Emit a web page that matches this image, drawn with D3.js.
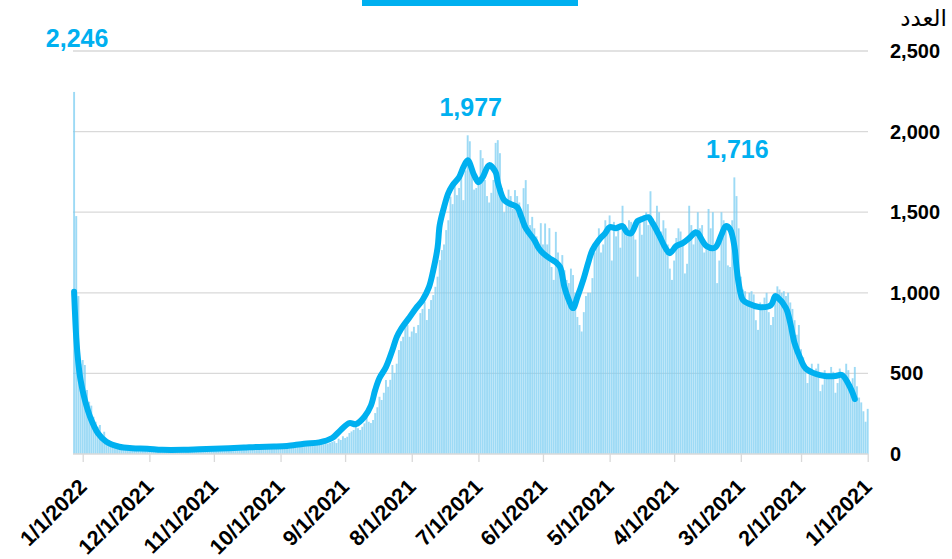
<!DOCTYPE html>
<html>
<head>
<meta charset="utf-8">
<script src="https://cdn.jsdelivr.net/npm/d3@7"></script>
<style>
  body { margin: 0; background: #fff; }
  svg { display: block; }
</style>
</head>
<body>
<svg id="chart"></svg>
<script>
// daily counts, one array per month (first day = 1 Jan 2021)
var jan2021 = [280,200,265,320,350,420,540,470,400,520,560,500,480,530,440,380,510,540,500,470,520,430,390,560,530,490,560,500,440,560,600];
var feb2021 = [650,800,740,830,900,940,1000,980,1010,1000,1020,1040,960,850,800,880,1000,970,920,940,770,830,990,1010,1000,940,1010,1020];
var mar2021 = [1100,1400,1600,1716,1450,1160,1170,1390,1450,1500,1200,1060,1280,1500,1400,1520,1300,1250,1420,1400,1500,1380,1300,1420,1540,1180,1120,1300,1380,1400,1340];
var apr2021 = [1200,1080,1150,1300,1400,1450,1380,1500,1540,1420,1460,1630,1420,1500,1480,1360,1460,1100,1330,1400,1440,1450,1380,1400,1540,1280,1420,1350,1440,1200];
var may2021 = [1480,1410,1450,1300,1250,1400,1300,1250,1091,1000,1000,980,880,760,800,850,1000,1110,1150,1060,1080,1140,1234,1170,1250,1378,1080,1160,1401,1300,1430];
var jun2021 = [1300,1432,1280,1350,1400,1471,1420,1550,1699,1649,1480,1560,1600,1637,1520,1600,1640,1560,1500,1650,1866,1947,1930,1700,1620,1560,1600,1700,1835,1885];
var jul2021 = [1700,1650,1640,1800,1940,1977,1760,1575,1761,1650,1606,1700,1550,1596,1450,1389,1300,1265,1203,1100,1037,986,955,900,831,944,900,874,800,750,789];
var aug2021 = [760,727,800,831,727,700,645,560,502,552,460,417,459,380,335,355,290,254,211,192,200,231,190,169,149,160,180,149,140,130,107];
var sep2021 = [99,110,87,95,68,80,75,70,65,72,60,68,70,62,75,70,58,66,60,55,52,48,45,42,40,38,36,40,38,45];
var oct2021 = [45,50,55,52,48,50,42,40,38,36,40,42,46,48,44,40,38,36,40,38,35,33,30,32,30,28,30,27,29,26,28];
var nov2021 = [30,27,29,26,30,28,25,24,26,22,25,24,27,23,25,22,26,24,27,25,23,26,28,25,29,30,32,34,33,35];
var dec2021 = [32,38,35,30,28,36,40,34,38,42,35,30,40,45,48,52,60,55,65,70,87,138,120,180,169,200,231,300,324,397,552];
var jan2022 = [583,560,980,1476,2246];

// moving average line
var avgDates = ["2021-01-07","2021-01-09","2021-01-13","2021-01-16","2021-01-21","2021-01-25","2021-01-30","2021-02-01","2021-02-04","2021-02-06",
  "2021-02-08","2021-02-12","2021-02-13","2021-02-15","2021-02-20","2021-02-25","2021-02-28","2021-03-02","2021-03-03","2021-03-04",
  "2021-03-06","2021-03-08","2021-03-10","2021-03-13","2021-03-17","2021-03-21","2021-03-22","2021-03-25","2021-03-28","2021-03-31",
  "2021-04-03","2021-04-05","2021-04-08","2021-04-11","2021-04-13","2021-04-16","2021-04-18","2021-04-21","2021-04-23","2021-04-25",
  "2021-04-28","2021-05-01","2021-05-03","2021-05-06","2021-05-09","2021-05-11","2021-05-13","2021-05-16","2021-05-18","2021-05-20",
  "2021-05-22","2021-05-24","2021-05-26","2021-05-29","2021-06-01","2021-06-03","2021-06-05","2021-06-09","2021-06-11","2021-06-13",
  "2021-06-16","2021-06-19","2021-06-22","2021-06-23","2021-06-26","2021-06-29","2021-07-01","2021-07-03","2021-07-06","2021-07-08",
  "2021-07-10","2021-07-13","2021-07-15","2021-07-17","2021-07-19","2021-07-20","2021-07-22","2021-07-24","2021-07-27","2021-07-30",
  "2021-08-02","2021-08-06","2021-08-08","2021-08-10","2021-08-13","2021-08-16","2021-08-18","2021-08-20","2021-08-23","2021-08-27",
  "2021-08-30","2021-09-03","2021-09-07","2021-09-13","2021-09-20","2021-09-28","2021-10-04","2021-10-11","2021-10-18","2021-10-25",
  "2021-11-01","2021-11-08","2021-11-15","2021-11-25","2021-12-02","2021-12-09","2021-12-15","2021-12-21","2021-12-25","2021-12-28",
  "2021-12-31","2022-01-02","2022-01-03","2022-01-04","2022-01-05"];
var avgValues = [341,409,490,484,484,496,533,583,688,812,
  905,973,980,924,911,930,955,1060,1160,1290,
  1395,1414,1360,1280,1290,1370,1376,1339,1308,1290,
  1246,1277,1358,1432,1469,1457,1445,1370,1376,1414,
  1401,1407,1370,1327,1265,1184,1091,973,905,955,
  1035,1159,1190,1215,1246,1277,1327,1401,1469,1531,
  1550,1575,1686,1748,1792,1717,1686,1730,1823,1779,
  1717,1668,1618,1531,1420,1280,1140,1035,955,905,
  849,775,725,645,539,471,397,300,231,185,
  192,149,99,72,64,50,46,44,40,36,
  32,29,26,26,33,36,45,76,130,211,
  335,459,560,720,1006];

// labelled peaks
var peakDates = ["2022-01-05","2021-07-06","2021-03-04"];
var peakValues = [2246,1977,1716];

var yTicks = [0,500,1000,1500,2000,2500];

var width = 952, height = 559;
var plotLeft = 73, plotRight = 868, plotTop = 51, plotBottom = 454;
var lightBlue = "#00b0f0";

var parse = d3.timeParse("%Y-%m-%d");
var start = new Date(2021, 0, 1);
var daily = [].concat(jan2021, feb2021, mar2021, apr2021, may2021, jun2021,
  jul2021, aug2021, sep2021, oct2021, nov2021, dec2021, jan2022)
  .map(function (v, i) { return { date: d3.timeDay.offset(start, i), value: v }; });
var avg = avgDates.map(function (d, i) { return { date: parse(d), value: avgValues[i] }; });

var svg = d3.select("#chart").attr("width", width).attr("height", height);

// time runs right to left
var x = d3.scaleTime()
  .domain([new Date(2021, 0, 1), new Date(2022, 0, 1)])
  .range([867.7, 82.7]);
var y = d3.scaleLinear().domain([0, 2500]).range([plotBottom, plotTop]);

// legend swatch cut at the top edge
svg.append("rect")
  .attr("x", 362).attr("y", -1).attr("width", 216).attr("height", 7)
  .attr("fill", lightBlue);

// gridlines
svg.append("g").selectAll("line")
  .data(yTicks.filter(function (d) { return d > 0; }))
  .enter().append("line")
  .attr("x1", plotLeft).attr("x2", plotRight)
  .attr("y1", function (d) { return y(d); })
  .attr("y2", function (d) { return y(d); })
  .attr("stroke", "#d9d9d9").attr("stroke-width", 1.3);

// daily bars
var barW = 1.9;
svg.append("g").selectAll("rect")
  .data(daily)
  .enter().append("rect")
  .attr("x", function (d) { return x(d.date) - barW / 2; })
  .attr("width", barW)
  .attr("y", function (d) { return y(d.value); })
  .attr("height", function (d) { return y(0) - y(d.value); })
  .attr("fill", "#7ccdf2")
  .attr("fill-opacity", 0.75);

// x axis
svg.append("line")
  .attr("x1", plotLeft).attr("x2", plotRight)
  .attr("y1", plotBottom).attr("y2", plotBottom)
  .attr("stroke", "#d9d9d9").attr("stroke-width", 1.3);

var xAxis = d3.axisBottom(x)
  .ticks(d3.timeMonth.every(1))
  .tickFormat(d3.timeFormat("%-m/%-d/%Y"))
  .tickSize(8);
var gx = svg.append("g")
  .attr("transform", "translate(0," + plotBottom + ")")
  .call(xAxis);
gx.select(".domain").remove();
gx.selectAll(".tick line").attr("stroke", "#d9d9d9").attr("stroke-width", 1.3);
gx.selectAll(".tick text")
  .attr("x", 0).attr("y", 0).attr("dy", 0)
  .attr("text-anchor", "end")
  .attr("transform", "translate(5,34) rotate(-45)")
  .attr("fill", "#000")
  .style("font-family", "'Liberation Sans', Arial, sans-serif")
  .style("font-weight", "bold")
  .style("font-size", "21.5px");

// y labels on the right
svg.append("g").selectAll("text")
  .data(yTicks)
  .enter().append("text")
  .attr("x", 890)
  .attr("y", function (d) { return y(d) + 7; })
  .text(d3.format(","))
  .attr("fill", "#000")
  .style("font-family", "'Liberation Sans', Arial, sans-serif")
  .style("font-weight", "bold")
  .style("font-size", "20px");

svg.append("text")
  .attr("x", 947).attr("y", 26)
  .attr("text-anchor", "end")
  .text("العدد")
  .attr("fill", "#000")
  .style("font-family", "'DejaVu Sans', sans-serif")
  .style("font-size", "23px");

// moving average
var line = d3.line()
  .x(function (d) { return x(d.date); })
  .y(function (d) { return y(d.value); })
  .curve(d3.curveCatmullRom.alpha(0.5));
svg.append("path")
  .datum(avg)
  .attr("d", line)
  .attr("fill", "none")
  .attr("stroke", lightBlue)
  .attr("stroke-width", 6)
  .attr("stroke-linejoin", "round")
  .attr("stroke-linecap", "round");

// peak labels; one that would hit the top gridline goes above the plot
svg.append("g").selectAll("text")
  .data(peakDates.map(function (d, i) { return { date: parse(d), value: peakValues[i] }; }))
  .enter().append("text")
  .attr("x", function (d) { return x(d.date) + 3; })
  .attr("y", function (d) {
    var ly = y(d.value) - 19;
    return ly > plotTop + 25 ? ly : plotTop - 4;
  })
  .attr("text-anchor", "middle")
  .text(function (d) { return d3.format(",")(d.value); })
  .attr("fill", lightBlue)
  .style("font-family", "'Liberation Sans', Arial, sans-serif")
  .style("font-weight", "bold")
  .style("font-size", "25px");
</script>
</body>
</html>
